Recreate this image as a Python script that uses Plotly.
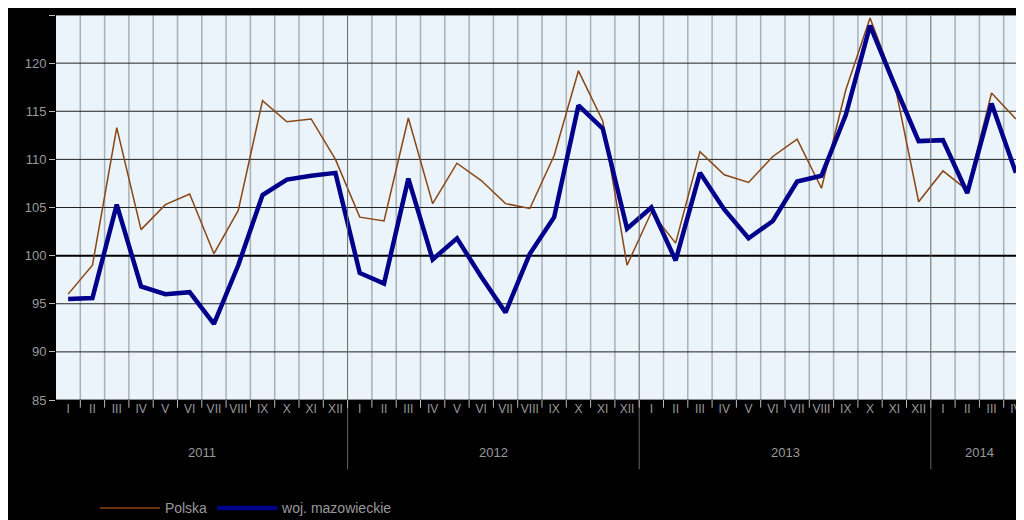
import plotly.graph_objects as go

months = ["I","II","III","IV","V","VI","VII","VIII","IX","X","XI","XII"]
years = ["2011","2012","2013","2014"]
month_labels = months*3 + months[:4]
polska = [96.0, 99.0, 113.3, 102.7, 105.3, 106.4, 100.2, 104.7, 116.1, 113.9, 114.2, 110.0,
          104.0, 103.6, 114.3, 105.4, 109.6, 107.8, 105.4, 104.9, 110.4, 119.2, 114.0, 99.0,
          104.5, 101.3, 110.8, 108.4, 107.6, 110.3, 112.1, 107.0, 117.2, 124.7, 118.0, 105.6,
          108.8, 106.8, 116.9, 114.2]
mazow = [95.5, 95.6, 105.3, 96.8, 96.0, 96.2, 92.9, 99.0, 106.3, 107.9, 108.3, 108.6,
         98.2, 97.1, 108.0, 99.6, 101.8, 97.8, 94.1, 100.2, 104.0, 115.6, 113.2, 102.8,
         105.0, 99.5, 108.6, 104.8, 101.8, 103.6, 107.7, 108.3, 114.6, 123.9, 117.8, 111.9,
         112.0, 106.5, 115.8, 108.6]
yticks = [85, 90, 95, 100, 105, 110, 115, 120, 125]

n = len(polska)
x = list(range(n))
fig = go.Figure()
fig.add_trace(go.Scatter(x=x, y=polska, mode="lines", name="Polska",
                         line=dict(color="#8B4513", width=1.5)))
fig.add_trace(go.Scatter(x=x, y=mazow, mode="lines", name="woj. mazowieckie",
                         line=dict(color="#00008B", width=4.5)))

shapes = []
for i in range(1, n):
    if i % 12 == 0:
        shapes.append(dict(type="line", xref="x", yref="paper", x0=i-0.5, x1=i-0.5,
                           y0=-0.18, y1=1, line=dict(color="#666", width=1), layer="above"))
    else:
        shapes.append(dict(type="line", xref="x", yref="paper", x0=i-0.5, x1=i-0.5,
                           y0=0, y1=1, line=dict(color="#a8b0b8", width=1.5), layer="below"))
    shapes.append(dict(type="line", xref="x", yref="paper", x0=i-0.5, x1=i-0.5,
                       y0=-0.02, y1=0, line=dict(color="#bbb", width=1)))
for v in yticks:
    shapes.append(dict(type="line", xref="paper", yref="y", x0=0, x1=1, y0=v, y1=v,
                       line=dict(color="#222" if v != 100 else "#000", width=1 if v != 100 else 2),
                       layer="below"))

ann = []
for k, yr in enumerate(years):
    start = k*12
    end = min(n, start+12)
    ann.append(dict(x=(start+end-1)/2, y=-0.16, xref="x", yref="paper", text=yr,
                    showarrow=False, font=dict(color="#999", size=13)))

fig.update_layout(
    width=1024, height=520,
    paper_bgcolor="black", plot_bgcolor="#eaf4fa",
    margin=dict(l=48, r=4, t=7, b=115),
    font=dict(family="Liberation Sans, Arial", size=13, color="#999"),
    xaxis=dict(range=[-0.5, n-0.5], tickvals=x, ticktext=month_labels, showgrid=False,
               zeroline=False, tickfont=dict(size=12, color="#999"), ticks="", ticklen=0),
    yaxis=dict(range=[85, 125], tickvals=yticks, showgrid=False, zeroline=False,
               ticks="outside", ticklen=6, tickcolor="#bbb", tickfont=dict(size=13, color="#999")),
    shapes=shapes, annotations=ann,
    legend=dict(orientation="h", x=0.04, y=-0.24, xanchor="left", yanchor="top",
                font=dict(size=14, color="#999"), bgcolor="rgba(0,0,0,0)", itemwidth=60),
    showlegend=True,
)
fig.write_html("out.html")
